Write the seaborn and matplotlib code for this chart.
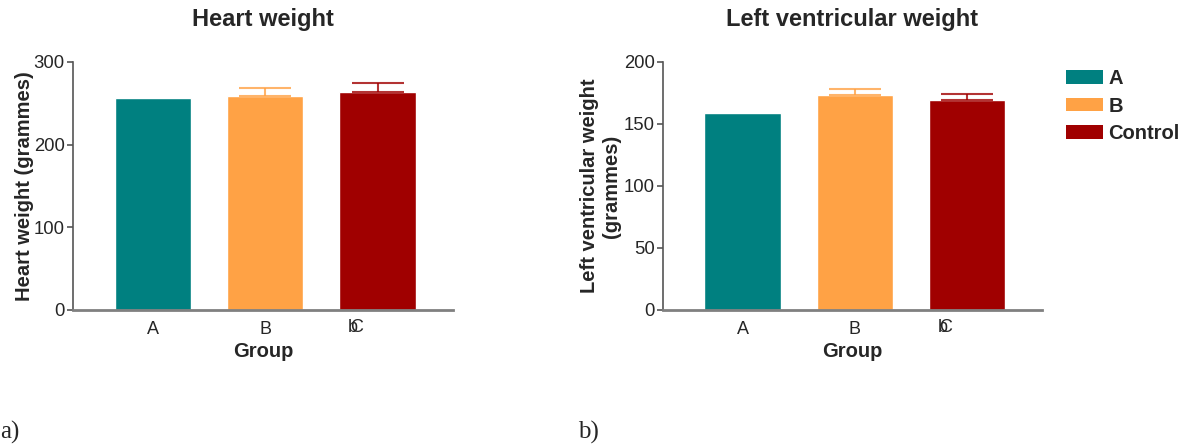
import matplotlib
matplotlib.use("Agg")
import matplotlib.pyplot as plt
import matplotlib.transforms as mtransforms
from matplotlib.patches import Patch
import seaborn as sns
import pandas as pd

groups = ["A", "B", "Control"]
tick_labels = ["A", "B", ""]
third_label_parts = ["b", "C"]
heart_means = [256, 259, 264]
heart_err = [0, 9, 10]
lv_means = [159, 173, 169]
lv_err = [0, 5, 5]
colors = ["#008080", "#FFA245", "#A00000"]

sns.set_theme(style="white")
plt.rcParams["font.family"] = ["Liberation Sans", "DejaVu Sans"]

fig = plt.figure(figsize=(11.95, 4.44), dpi=100)
ax1 = fig.add_axes([73/1195, 1-310/444, 380/1195, 248/444])
ax2 = fig.add_axes([663/1195, 1-310/444, 379/1195, 248/444])

def panel(ax, means, errs, title, ylabel, ymax, yticks, ylabelpad):
    df = pd.DataFrame({"Group": groups, "val": means})
    sns.barplot(data=df, x="Group", y="val", hue="Group", palette=colors,
                dodge=False, errorbar=None, width=0.68, legend=False, ax=ax,
                saturation=1)
    for i, (m, e) in enumerate(zip(means, errs)):
        if e > 0:
            ax.errorbar(i, m, yerr=[[0], [e]], fmt="none", ecolor=colors[i],
                        elinewidth=1.5, capsize=19, capthick=1.5, alpha=0.8)
    ax.set_xlim(-0.71, 2.67)
    ax.set_ylim(0, ymax)
    ax.set_yticks(yticks)
    ax.set_yticklabels([str(t) for t in yticks], fontsize=13.3)
    ax.set_xticks([0, 1, 2])
    ax.set_xticklabels(tick_labels, fontsize=13)
    ax.tick_params(axis="y", which="both", left=True, length=4, width=1.2,
                   color="#555555", pad=2)
    ax.tick_params(axis="x", bottom=False, pad=2)
    base = ax.get_xaxis_transform()
    for txt, dx in zip(third_label_parts, [-24.5, -21]):
        ax.text(2, 0, txt, transform=base + mtransforms.ScaledTranslation(dx/100, -8.5/100, fig.dpi_scale_trans),
                ha="center", va="top", fontsize=13)
    for s in ["top", "right"]:
        ax.spines[s].set_visible(False)
    ax.spines["left"].set_color("#555555")
    ax.spines["left"].set_linewidth(1.2)
    ax.spines["bottom"].set_color("#808080")
    ax.spines["bottom"].set_linewidth(2)
    ax.set_title(title, fontsize=17, fontweight="bold", pad=26)
    ax.set_xlabel("Group", fontsize=14.5, fontweight="bold", labelpad=3)
    ax.set_ylabel(ylabel, fontsize=14.5, fontweight="bold", labelpad=ylabelpad)
    ax.grid(False)

panel(ax1, heart_means, heart_err, "Heart weight", "Heart weight (grammes)", 300, [0, 100, 200, 300], 0)
panel(ax2, lv_means, lv_err, "Left ventricular weight", "Left ventricular weight\n(grammes)", 200, [0, 50, 100, 150, 200], 2)

handles = [Patch(facecolor=c, edgecolor="none") for c in colors]
leg = fig.legend(handles, groups, loc="upper left", bbox_to_anchor=(1048/1195, 1-51/444),
                 frameon=False, prop={"weight": "bold", "size": 14.5},
                 handlelength=1.85, handleheight=0.65, handletextpad=0.25, labelspacing=0.42)

fig.text(0/1195, 1-432/444, "a)", family="Liberation Serif", fontsize=18, va="center", ha="left")
fig.text(578/1195, 1-432/444, "b)", family="Liberation Serif", fontsize=18, va="center", ha="left")

fig.savefig("out.png", dpi=100)
